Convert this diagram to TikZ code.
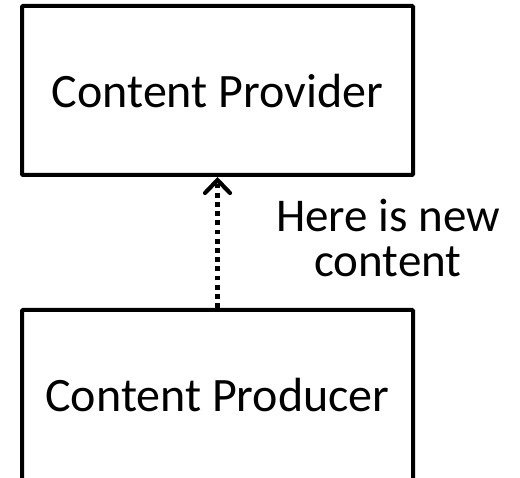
\documentclass[tikz,border=0pt]{standalone}
\usepackage{fontspec}
\setmainfont{Carlito}
\usetikzlibrary{arrows.meta}
\begin{document}
\begin{tikzpicture}[x=1pt,y=-1pt,
  box/.style={draw=black, line width=4pt, minimum width=391pt, inner sep=0pt, rounded corners=1pt},
  boxtext/.style={anchor=base, inner sep=0pt, font=\fontsize{48}{58}\selectfont},
  labeltext/.style={align=center, inner sep=0pt, font=\fontsize{47}{44.5}\selectfont},
  flow/.style={line width=4.8pt, dash pattern=on 4.8pt off 4.4pt,
    -{Straight Barb[length=13pt,width=25pt,line width=4.2pt,line cap=round]}}]
\useasboundingbox (0,0) rectangle (520,478);
\clip (0,0) rectangle (520,478);
\node[box, minimum height=169pt] (prov) at (217.5,90.5) {};
\node[boxtext] (provtxt) at (217.5,108) {Content Provider};
\node[box, minimum height=180pt] (prod) at (217.5,400) {};
\node[boxtext] (prodtxt) at (217.5,412) {Content Producer};
\draw[flow] (prod.north) -- (prov.south);
\node[labeltext] (lbl) at (388,238) {Here is new\\content};
\end{tikzpicture}
\end{document}
